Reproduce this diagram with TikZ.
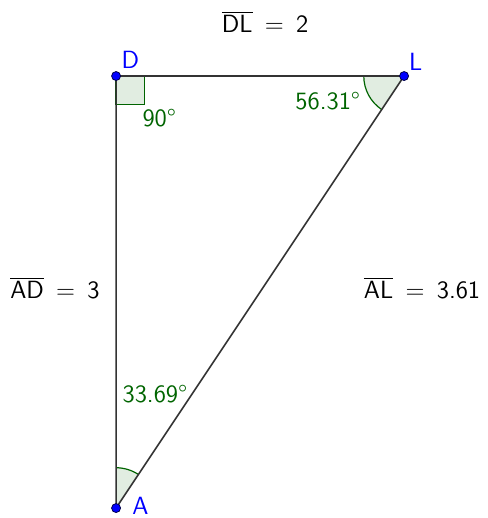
\documentclass[tikz,border=0pt]{standalone}
\usetikzlibrary{angles}
\definecolor{anglegreen}{RGB}{0,100,0}
\definecolor{anglefill}{RGB}{225,237,225}
\definecolor{sidegray}{RGB}{51,51,51}
\begin{document}
\begin{tikzpicture}[
x=1in, y=1in,
every node/.style={
font=\sffamily\fontsize{12.5}{15}\selectfont
},
side/.style={draw=sidegray, line width=0.8pt},
angmark/.style={draw=anglegreen, fill=anglefill, line width=0.6pt},
anglabel/.style={text=anglegreen},
ptlabel/.style={text=blue, inner sep=1pt},
pt/.style={
circle,
draw=black!70!blue,
fill=blue,
inner sep=0pt,
minimum size=4.5pt
}
]

\useasboundingbox (-0.806,-0.069) rectangle (2.576,3.528);

\coordinate (D) at (0,3);
\coordinate (L) at (2,3);
\coordinate (A) at (0,0);

\fill[anglefill] (D) rectangle ++(0.2,-0.2);
\draw[anglegreen, line width=0.6pt] (D) rectangle ++(0.2,-0.2);
\pic[angmark, angle radius=0.28in] {angle = D--L--A};
\pic[angmark, angle radius=0.28in] {angle = L--A--D};

\draw[side] (D) -- (L) -- (A) -- cycle;

\node[pt] (Dp) at (D) {};
\node[pt] (Lp) at (L) {};
\node[pt] (Ap) at (A) {};

\node[ptlabel] (Dl) at (0.1,3.11) {D};
\node[ptlabel] (Ll) at (2.08,3.10) {L};
\node[ptlabel] (Al) at (0.17,0.012) {A};

\node[anglabel] (Dang) at (0.30,2.71) {90°};
\node[anglabel] (Lang) at (1.47,2.826) {56.31°};
\node[anglabel] (Aang) at (0.27,0.79) {33.69°};

\node (DL) at (1.035,3.375) {$\overline{\textsf{DL}}$\, = \,2};
\node (AD) at (-0.424,1.528) {$\overline{\textsf{AD}}$\, = \,3};
\node (AL) at (2.125,1.528) {$\overline{\textsf{AL}}$\, = \,3.61};

\end{tikzpicture}
\end{document}
